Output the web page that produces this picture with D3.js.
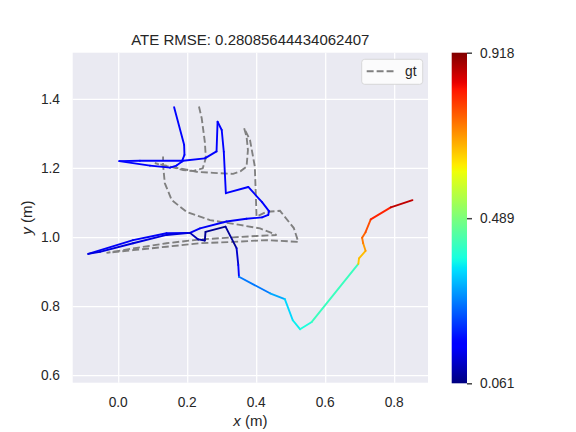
<!DOCTYPE html>
<html>
<head>
<meta charset="utf-8">
<script src="https://cdn.jsdelivr.net/npm/d3@7"></script>
<style>
  body { margin: 0; background: #fff; }
  text { font-family: "Liberation Sans", Arial, sans-serif; fill: #262626; }
</style>
</head>
<body>
<div id="chart"></div>
<script>
// estimated trajectory (x, y in m) and its APE per pose
var estX = [0.162, 0.191, 0.192, 0.184, 0.169, 0.150, 0.092, 0.003, 0.063, 0.188,
            0.251, 0.285, 0.288, 0.300, 0.306, 0.312, 0.377, 0.417, 0.437, 0.435,
            0.417, 0.372, 0.314, 0.237, 0.208, 0.140, 0.043, -0.087, -0.053, 0.043,
            0.140, 0.208, 0.232, 0.251, 0.253, 0.311, 0.343, 0.348, 0.350, 0.440,
            0.483, 0.506, 0.527, 0.561, 0.696, 0.698, 0.717, 0.710, 0.707, 0.717,
            0.732, 0.790, 0.853];
var estY = [1.376, 1.267, 1.238, 1.218, 1.207, 1.201, 1.207, 1.220, 1.221, 1.221,
            1.228, 1.248, 1.334, 1.310, 1.247, 1.127, 1.145, 1.101, 1.075, 1.064,
            1.057, 1.053, 1.045, 1.025, 1.012, 1.011, 0.991, 0.951, 0.957, 0.982,
            1.006, 1.012, 0.993, 0.990, 1.015, 1.030, 0.968, 0.919, 0.885, 0.837,
            0.820, 0.759, 0.733, 0.754, 0.922, 0.938, 0.960, 0.982, 0.998, 1.014,
            1.051, 1.086, 1.107];
var estErr = [0.17, 0.17, 0.17, 0.17, 0.16, 0.16, 0.16, 0.16, 0.16, 0.16,
              0.16, 0.16, 0.16, 0.16, 0.16, 0.16, 0.16, 0.16, 0.16, 0.16,
              0.16, 0.16, 0.15, 0.15, 0.15, 0.15, 0.15, 0.15, 0.13, 0.13,
              0.13, 0.13, 0.10, 0.09, 0.08, 0.075, 0.08, 0.12, 0.17, 0.27,
              0.31, 0.35, 0.37, 0.39, 0.42, 0.66, 0.67, 0.70, 0.73, 0.75,
              0.77, 0.81, 0.87];

// ground truth
var gtX = [0.234, 0.242, 0.251, 0.254, 0.245, 0.217, 0.188, 0.150, 0.106, 0.135,
           0.179, 0.227, 0.275, 0.333, 0.355, 0.372, 0.376, 0.372, 0.365, 0.382,
           0.396, 0.401, 0.430, 0.469, 0.509, 0.522, 0.430, 0.333, 0.237, 0.140,
           0.043, -0.034, 0.043, 0.140, 0.237, 0.333, 0.401, 0.459, 0.411, 0.353,
           0.266, 0.198, 0.155, 0.135, 0.130, 0.130];
var gtY = [1.378, 1.344, 1.276, 1.229, 1.199, 1.191, 1.194, 1.204, 1.214, 1.206,
           1.199, 1.189, 1.186, 1.183, 1.191, 1.204, 1.252, 1.291, 1.315, 1.281,
           1.204, 1.059, 1.073, 1.076, 1.026, 0.986, 0.991, 0.986, 0.982, 0.972,
           0.962, 0.954, 0.967, 0.982, 0.993, 0.999, 1.003, 1.006, 1.025, 1.035,
           1.049, 1.073, 1.107, 1.156, 1.209, 1.233];

var xTicks = [0.0, 0.2, 0.4, 0.6, 0.8];
var yTicks = [0.6, 0.8, 1.0, 1.2, 1.4];
var cbarTicks = [0.061, 0.489, 0.918];
var errMin = 0.061, errMax = 0.918;
var titleText = "ATE RMSE: 0.28085644434062407";
var legendLabel = "gt";

var width = 576, height = 432;
var plotL = 72.7, plotR = 428, plotT = 52.7, plotB = 382.7;
var lw = 1.875;               // 1.5pt at 90 dpi
var dash = "6.94,3.0";

var svg = d3.select("#chart")
            .append("svg")
            .attr("width", width)
            .attr("height", height);

var x = d3.scaleLinear().domain([-0.132, 0.898]).range([plotL, plotR]);
var y = d3.scaleLinear().domain([0.578, 1.534]).range([plotB, plotT]);

// matplotlib jet, one scale per channel
var jetR = d3.scaleLinear().domain([0, 0.35, 0.66, 0.89, 1]).range([0, 0, 1, 1, 0.5]).clamp(true);
var jetG = d3.scaleLinear().domain([0, 0.125, 0.375, 0.64, 0.91, 1]).range([0, 0, 1, 1, 0, 0]).clamp(true);
var jetB = d3.scaleLinear().domain([0, 0.11, 0.34, 0.65, 1]).range([0.5, 1, 1, 0, 0]).clamp(true);
function jet(t) {
    return d3.rgb(jetR(t) * 255, jetG(t) * 255, jetB(t) * 255).formatHex();
}
var norm = d3.scaleLinear().domain([errMin, errMax]).clamp(true);

// axes background + grid
svg.append("rect")
   .attr("x", plotL).attr("y", plotT)
   .attr("width", plotR - plotL).attr("height", plotB - plotT)
   .attr("fill", "#eaeaf2");

svg.append("g")
   .attr("transform", `translate(0,${plotB})`)
   .call(d3.axisBottom(x).tickValues(xTicks).tickSize(-(plotB - plotT)).tickFormat(""))
   .call(g => g.select(".domain").remove())
   .call(g => g.selectAll("line").attr("stroke", "#fff").attr("stroke-width", 1.25));

svg.append("g")
   .attr("transform", `translate(${plotL},0)`)
   .call(d3.axisLeft(y).tickValues(yTicks).tickSize(-(plotR - plotL)).tickFormat(""))
   .call(g => g.select(".domain").remove())
   .call(g => g.selectAll("line").attr("stroke", "#fff").attr("stroke-width", 1.25));

// tick labels
svg.append("g").selectAll("text")
   .data(xTicks).enter().append("text")
   .attr("x", d => x(d)).attr("y", 406.7)
   .attr("text-anchor", "middle")
   .style("font-size", "13.75px")
   .text(d => d3.format(".1f")(d));

svg.append("g").selectAll("text")
   .data(yTicks).enter().append("text")
   .attr("x", 60).attr("y", d => y(d))
   .attr("text-anchor", "end")
   .attr("dy", "0.35em")
   .style("font-size", "13.75px")
   .text(d => d3.format(".1f")(d));

// ground truth dashed
var line = d3.line().x(d => x(d[0])).y(d => y(d[1]));
svg.append("path")
   .attr("d", line(d3.zip(gtX, gtY)))
   .attr("fill", "none")
   .attr("stroke", "#808080")
   .attr("stroke-width", lw)
   .attr("stroke-dasharray", dash);

// estimate, one segment per pose coloured by error
var segs = d3.range(1, estX.length).map(i => ({
    x1: estX[i - 1], y1: estY[i - 1], x2: estX[i], y2: estY[i], e: estErr[i]
}));
svg.append("g").selectAll("line")
   .data(segs).enter().append("line")
   .attr("x1", d => x(d.x1)).attr("y1", d => y(d.y1))
   .attr("x2", d => x(d.x2)).attr("y2", d => y(d.y2))
   .attr("stroke", d => jet(norm(d.e)))
   .attr("stroke-width", lw)
   .attr("stroke-linecap", "round");

// title and axis labels
svg.append("text")
   .attr("x", (plotL + plotR) / 2).attr("y", 45)
   .attr("text-anchor", "middle")
   .style("font-size", "15px")
   .text(titleText);

var xl = svg.append("text")
   .attr("x", (plotL + plotR) / 2).attr("y", 425.5)
   .attr("text-anchor", "middle")
   .style("font-size", "15px");
xl.append("tspan").style("font-style", "italic").text("x");
xl.append("tspan").text(" (m)");

var yl = svg.append("text")
   .attr("transform", `translate(32,${(plotT + plotB) / 2}) rotate(-90)`)
   .attr("text-anchor", "middle")
   .style("font-size", "15px");
yl.append("tspan").style("font-style", "italic").text("y");
yl.append("tspan").text(" (m)");

// legend
var lg = svg.append("g");
lg.append("rect")
  .attr("x", 361.7).attr("y", 59.3)
  .attr("width", 61).attr("height", 25)
  .attr("rx", 3)
  .attr("fill", "#fbfbfc")
  .attr("stroke", "#d0d0d0")
  .attr("stroke-width", 0.8);
lg.append("line")
  .attr("x1", 366.7).attr("x2", 394.2)
  .attr("y1", 71.3).attr("y2", 71.3)
  .attr("stroke", "#808080")
  .attr("stroke-width", lw)
  .attr("stroke-dasharray", dash);
lg.append("text")
  .attr("x", 405).attr("y", 71.3)
  .attr("dy", "0.35em")
  .style("font-size", "13.75px")
  .text(legendLabel);

// colorbar
var cbX = 451.7, cbW = 15.3, cbTop = 52.7, cbBottom = 383.3;
var defs = svg.append("defs");
var grad = defs.append("linearGradient")
               .attr("id", "jetGrad")
               .attr("x1", "0%").attr("y1", "100%")
               .attr("x2", "0%").attr("y2", "0%");
grad.selectAll("stop")
    .data(d3.range(0, 1.0001, 0.01)).enter().append("stop")
    .attr("offset", d => (d * 100) + "%")
    .attr("stop-color", d => jet(d));

svg.append("rect")
   .attr("x", cbX).attr("y", cbTop)
   .attr("width", cbW).attr("height", cbBottom - cbTop)
   .attr("fill", "url(#jetGrad)");

var cb = d3.scaleLinear().domain([errMin, errMax]).range([cbBottom, cbTop]);
svg.append("g")
   .attr("transform", `translate(${cbX + cbW},0)`)
   .call(d3.axisRight(cb).tickValues(cbarTicks).tickSize(5).tickPadding(8).tickFormat(d3.format(".3f")))
   .call(g => g.select(".domain").remove())
   .call(g => g.selectAll("line").attr("stroke", "#444").attr("stroke-width", 1.5))
   .call(g => g.selectAll("text")
               .style("font-size", "13.75px")
               .style("font-family", "'Liberation Sans', Arial, sans-serif")
               .attr("fill", "#262626"));
</script>
</body>
</html>
